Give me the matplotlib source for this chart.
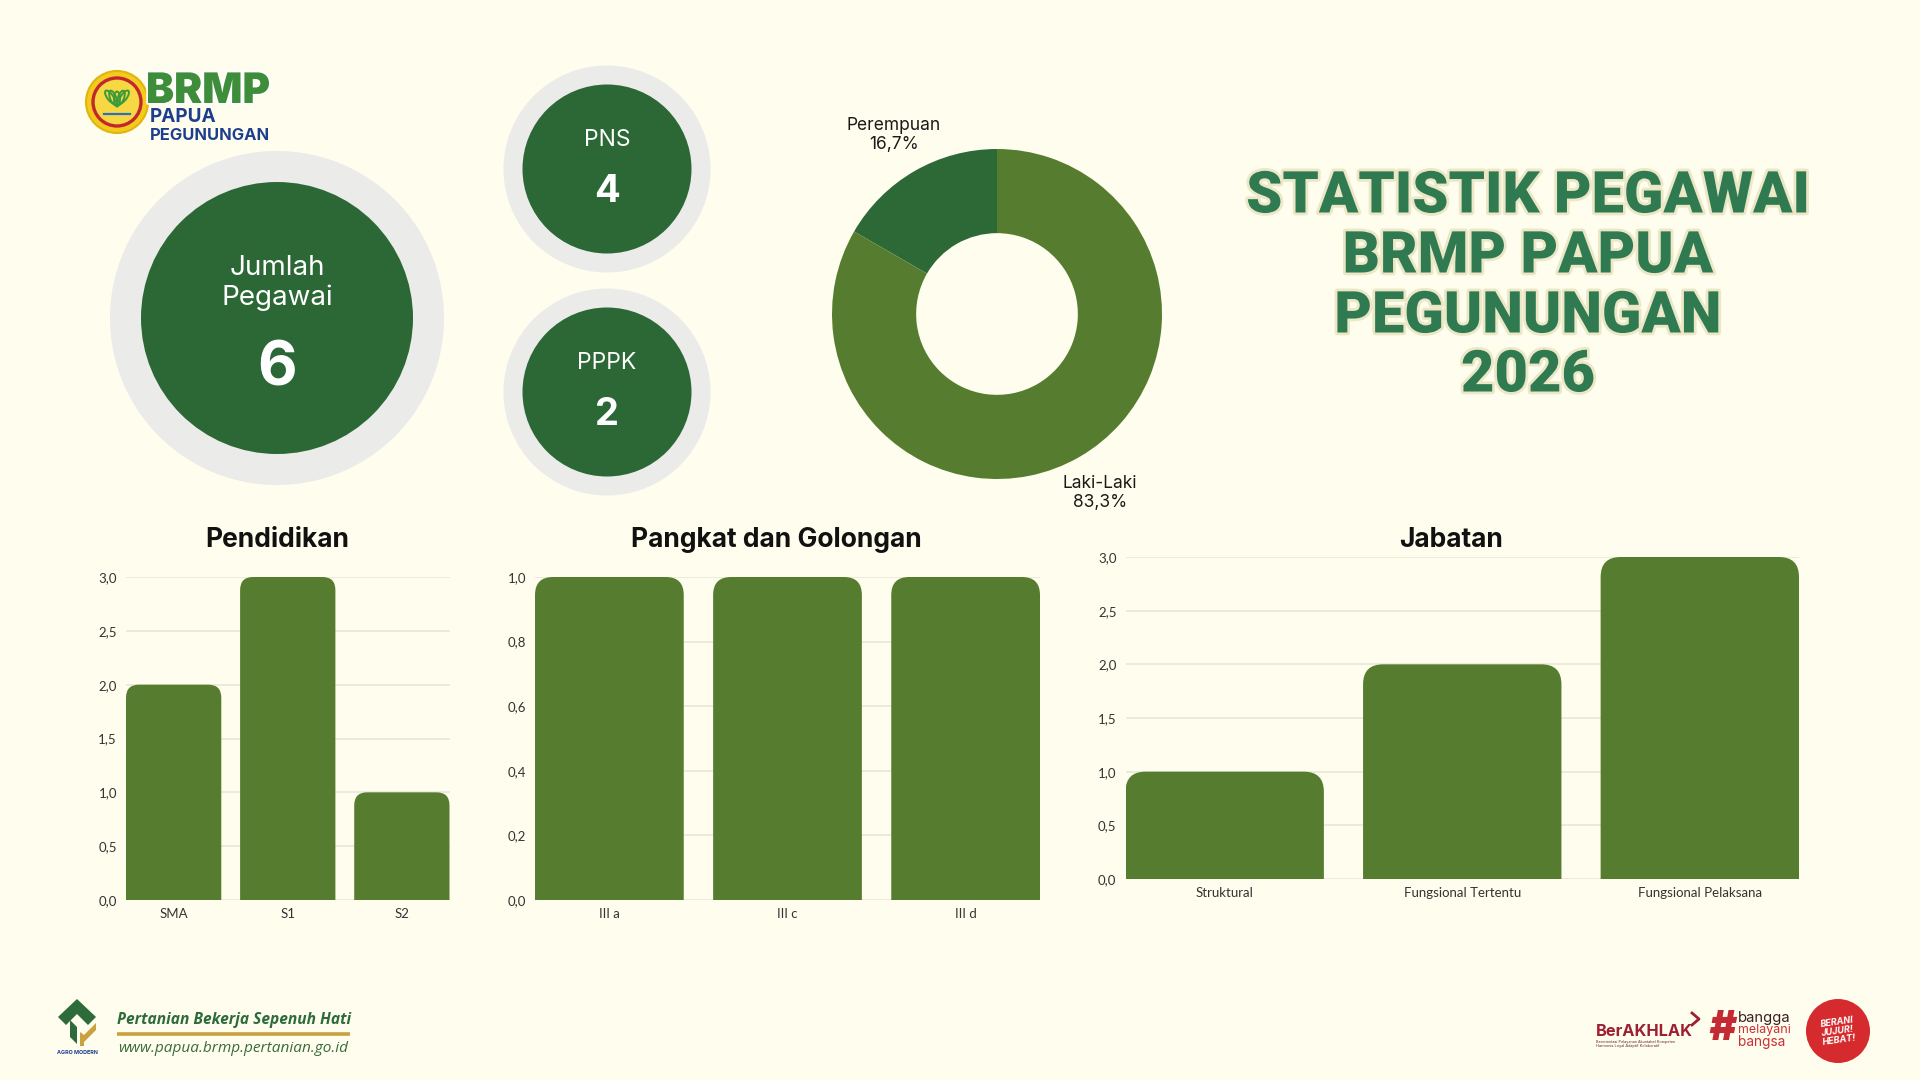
import matplotlib
matplotlib.use("Agg")
import matplotlib.pyplot as plt
from matplotlib.patches import FancyBboxPatch, Circle, Polygon, Ellipse
import matplotlib.patheffects as pe
from matplotlib.ticker import MultipleLocator, FuncFormatter

# ---------------- data ----------------
total_label = "Jumlah\nPegawai"
total_value = 6
status_labels = ["PNS", "PPPK"]
status_values = [4, 2]
gender_labels = ["Perempuan", "Laki-Laki"]
gender_values = [1, 5]
edu_labels = ["SMA", "S1", "S2"]
edu_values = [2, 3, 1]
gol_labels = ["III a", "III c", "III d"]
gol_values = [1, 1, 1]
jab_labels = ["Struktural", "Fungsional Tertentu", "Fungsional Pelaksana"]
jab_values = [1, 2, 3]
chart_titles = ["Pendidikan", "Pangkat dan Golongan", "Jabatan"]
title_lines = ["STATISTIK PEGAWAI", "BRMP PAPUA", "PEGUNUNGAN", "2026"]

# ---------------- style ----------------
BG = "#FEFDEE"
RING = "#EBEBE9"
DARK = "#2B6836"
BAR = "#567D2F"
TITLE_GREEN = "#2F7A50"

plt.rcParams["font.family"] = ["Inter", "DejaVu Sans"]

W, H = 1920, 1080
fig = plt.figure(figsize=(19.2, 10.8), dpi=100, facecolor=BG)
bg = fig.add_axes([0, 0, 1, 1])
bg.set_xlim(0, W)
bg.set_ylim(H, 0)
bg.axis("off")
bg.set_zorder(0)
renderer = fig.canvas.get_renderer()


def fit(t, width):
    bb = t.get_window_extent(renderer)
    t.set_fontsize(t.get_fontsize() * width / bb.width)
    return t


def rect(l, t, r, b):
    return [l / W, 1 - b / H, (r - l) / W, (b - t) / H]


# ---------------- top-left logo ----------------
bg.add_patch(Circle((117, 102), 31, fc="#F3CB1C", ec="#E2B40F", lw=1.5, zorder=2))
bg.add_patch(Circle((117, 102), 24, fc="#F7D842", ec="#C1272D", lw=2.4, zorder=3))
for ang, dx in [(-35, -7), (35, 7), (-20, -4), (20, 4), (0, 0)]:
    bg.add_patch(Ellipse((117 + dx, 99 - abs(dx) * 0.3), 6, 15, angle=ang,
                         fc="none", ec="#3C9A3A", lw=1.4, zorder=4))
bg.plot([104, 130], [114, 114], color="#2E6FC0", lw=1.6, zorder=4)
t = bg.text(146, 92, "BRMP", ha="left", va="center", fontsize=23, weight="black",
            color="#3D8D3B", zorder=5,
            path_effects=[pe.withStroke(linewidth=2.5, foreground="white")])
fit(t, 124)
t = bg.text(150, 117, "PAPUA", ha="left", va="center", fontsize=13, weight="bold",
            color="#1D3E8E", zorder=5)
fit(t, 67)
t = bg.text(150, 135, "PEGUNUNGAN", ha="left", va="center", fontsize=12, weight="bold",
            color="#1D3E8E", zorder=5)
fit(t, 120)

# ---------------- big total circle ----------------
bg.add_patch(Circle((277, 318), 167, fc=RING, ec="none", zorder=1))
bg.add_patch(Circle((277, 318), 136, fc=DARK, ec="none", zorder=2))
bg.text(277, 283, total_label, ha="center", va="center", fontsize=20,
        color="white", linespacing=1.15, zorder=3)
bg.text(277, 369, str(total_value), ha="center", va="center", fontsize=44,
        weight="bold", color="white", zorder=3)

# ---------------- status circles ----------------
status_centers = [(607, 169), (607, 392)]
for (cx, cy), lab, val in zip(status_centers, status_labels, status_values):
    bg.add_patch(Circle((cx, cy), 103.5, fc=RING, ec="none", zorder=1))
    bg.add_patch(Circle((cx, cy), 84.5, fc=DARK, ec="none", zorder=2))
    bg.text(cx, cy - 29, lab, ha="center", va="center", fontsize=16.5,
            color="white", zorder=3)
    bg.text(cx, cy + 23, str(val), ha="center", va="center", fontsize=27.5,
            weight="bold", color="white", zorder=3)

# ---------------- donut ----------------
dcx, dcy, dr = 997, 314, 165
axd = fig.add_axes(rect(dcx - dr, dcy - dr, dcx + dr, dcy + dr))
axd.set_zorder(2)
tot = sum(gender_values)
glabels = [f"{l}\n{v / tot * 100:.1f}%".replace(".", ",")
           for l, v in zip(gender_labels, gender_values)]
wedges, texts = axd.pie(gender_values, labels=glabels, colors=["#2C6936", BAR],
                        startangle=90, counterclock=True, radius=1,
                        labeldistance=1.25,
                        wedgeprops=dict(width=0.51, edgecolor="none"))
for tx in texts:
    tx.set_ha("center")
    tx.set_va("center")
    tx.set_fontsize(12.5)
    tx.set_color("#1A1A1A")
    tx.set_linespacing(1.15)
axd.set_xlim(-1, 1)
axd.set_ylim(-1, 1)

# ---------------- headline title ----------------
title_y = [197, 257, 317, 376]
tt = []
for line, y in zip(title_lines, title_y):
    tt.append(bg.text(1528, y, line, ha="center", va="center", fontsize=40,
                      family=["Roboto", "DejaVu Sans"], weight="black",
                      color=TITLE_GREEN, zorder=5,
                      path_effects=[pe.withStroke(linewidth=4, foreground="#ECE7C6")]))
fit(tt[0], 563)
for x in tt[1:]:
    x.set_fontsize(tt[0].get_fontsize())

# ---------------- bar charts ----------------
charts = [
    (chart_titles[0], edu_labels, edu_values, (126, 577, 449.5, 900), 0.5, 13, 277),
    (chart_titles[1], gol_labels, gol_values, (535, 577, 1040, 900), 0.2, 18, 776),
    (chart_titles[2], jab_labels, jab_values, (1125.5, 557, 1799, 879), 0.5, 20, 1451),
]
bw = 0.835
fmt = FuncFormatter(lambda v, p: f"{v:.1f}".replace(".", ","))
for title, labels, values, (l, t_, r, b), step, rad, tx in charts:
    ax = fig.add_axes(rect(l, t_, r, b))
    ax.set_facecolor("none")
    ax.set_zorder(2)
    xs = list(range(len(labels)))
    bars = ax.bar(xs, values, width=bw, color=BAR)
    ax.set_xlim(-bw / 2, len(labels) - 1 + bw / 2)
    ax.set_ylim(0, max(values))
    pxx = (r - l) / (len(labels) - 1 + bw)
    pxy = (b - t_) / max(values)
    rx = rad / pxx
    asp = pxx / pxy
    ry = rx * asp
    for bar in bars:
        bar.set_visible(False)
        p = FancyBboxPatch((bar.get_x(), -2 * ry), bar.get_width(),
                           bar.get_height() + 2 * ry,
                           boxstyle=f"round,pad=0,rounding_size={rx}",
                           mutation_aspect=asp, fc=BAR, ec="none", zorder=3)
        ax.add_patch(p)
    ax.yaxis.set_major_locator(MultipleLocator(step))
    ax.yaxis.set_major_formatter(fmt)
    ax.set_xticks(xs, labels)
    ax.grid(axis="y", color="#ECEADB", lw=1.4)
    ax.set_axisbelow(True)
    for s in ax.spines.values():
        s.set_visible(False)
    ax.tick_params(axis="y", length=0, pad=6.5, labelsize=9.5, colors="#333333",
                   labelfontfamily="Lato")
    ax.tick_params(axis="x", length=0, pad=5.5, labelsize=9.5, colors="#333333",
                   labelfontfamily="Lato")
    bg.text(tx, 540, title, ha="center", va="center", fontsize=19, weight="bold",
            color="#111111", zorder=5)

# ---------------- footer left ----------------
bg.add_patch(Polygon([(77, 999), (96, 1017), (88, 1025), (77, 1014), (66, 1025), (58, 1017)],
                     closed=True, fc="#2E6B3A", ec="none", zorder=3))
bg.add_patch(Polygon([(70, 1020), (77, 1027), (77, 1044), (70, 1037)],
                     closed=True, fc="#2E6B3A", ec="none", zorder=3))
bg.add_patch(Polygon([(96, 1023), (96, 1030), (84, 1042), (84, 1035)],
                     closed=True, fc="#C9A23F", ec="none", zorder=3))
bg.add_patch(Polygon([(80, 1032), (84, 1035), (84, 1046), (80, 1046)],
                     closed=True, fc="#C9A23F", ec="none", zorder=3))
t = bg.text(77, 1053, "AGRO MODERN", ha="center", va="center", fontsize=4,
            weight="bold", color="#1D3E8E", zorder=3)
fit(t, 41)
t = bg.text(117, 1020, "Pertanian Bekerja Sepenuh Hati", ha="left", va="center",
            fontsize=12, weight="bold", style="italic", family=["Open Sans", "DejaVu Sans"],
            color="#2E6B3A", zorder=3)
fit(t, 233)
bg.plot([117, 350], [1034, 1034], color="#C9A23F", lw=2.6, zorder=3,
        solid_capstyle="butt")
t = bg.text(118, 1048, "www.papua.brmp.pertanian.go.id", ha="left", va="center",
            fontsize=12, style="italic", family=["Open Sans", "DejaVu Sans"],
            color="#3A6B3A", zorder=3)
fit(t, 230)

# ---------------- footer right ----------------
t = bg.text(1596, 1032, "BerAKHLAK", ha="left", va="center", fontsize=13,
            weight="bold", color="#9E1F32", zorder=3)
fit(t, 97)
bg.plot([1692, 1699, 1692], [1013, 1019, 1025], color="#9E1F32", lw=2, zorder=3)
t = bg.text(1596, 1041.5, "Berorientasi Pelayanan Akuntabel Kompeten", ha="left",
            va="center", fontsize=3, color="#6A2A35", zorder=3)
fit(t, 82)
t = bg.text(1596, 1046.5, "Harmonis Loyal Adaptif Kolaboratif", ha="left",
            va="center", fontsize=3, color="#6A2A35", zorder=3)
fit(t, 66)
bg.text(1722, 1029, "#", ha="center", va="center", fontsize=30, weight="black",
        style="italic", color="#C32A33", zorder=3)
t = bg.text(1738, 1018, "bangga", ha="left", va="center", fontsize=11,
            color="#3A1F22", zorder=3)
fit(t, 52)
t = bg.text(1738, 1030, "melayani", ha="left", va="center", fontsize=11,
            color="#C8323A", zorder=3)
fit(t, 52)
t = bg.text(1738, 1042, "bangsa", ha="left", va="center", fontsize=11,
            color="#C8323A", zorder=3)
fit(t, 47)
bg.add_patch(Circle((1838, 1031), 32, fc="#D62B2E", ec="none", zorder=3))
bg.text(1838, 1031, "BERANI\nJUJUR!\nHEBAT!", ha="center", va="center", fontsize=6.5,
        weight="bold", style="italic", color="white", linespacing=1.0,
        rotation=8, zorder=4)

fig.savefig("out.png", dpi=100, facecolor=BG)
